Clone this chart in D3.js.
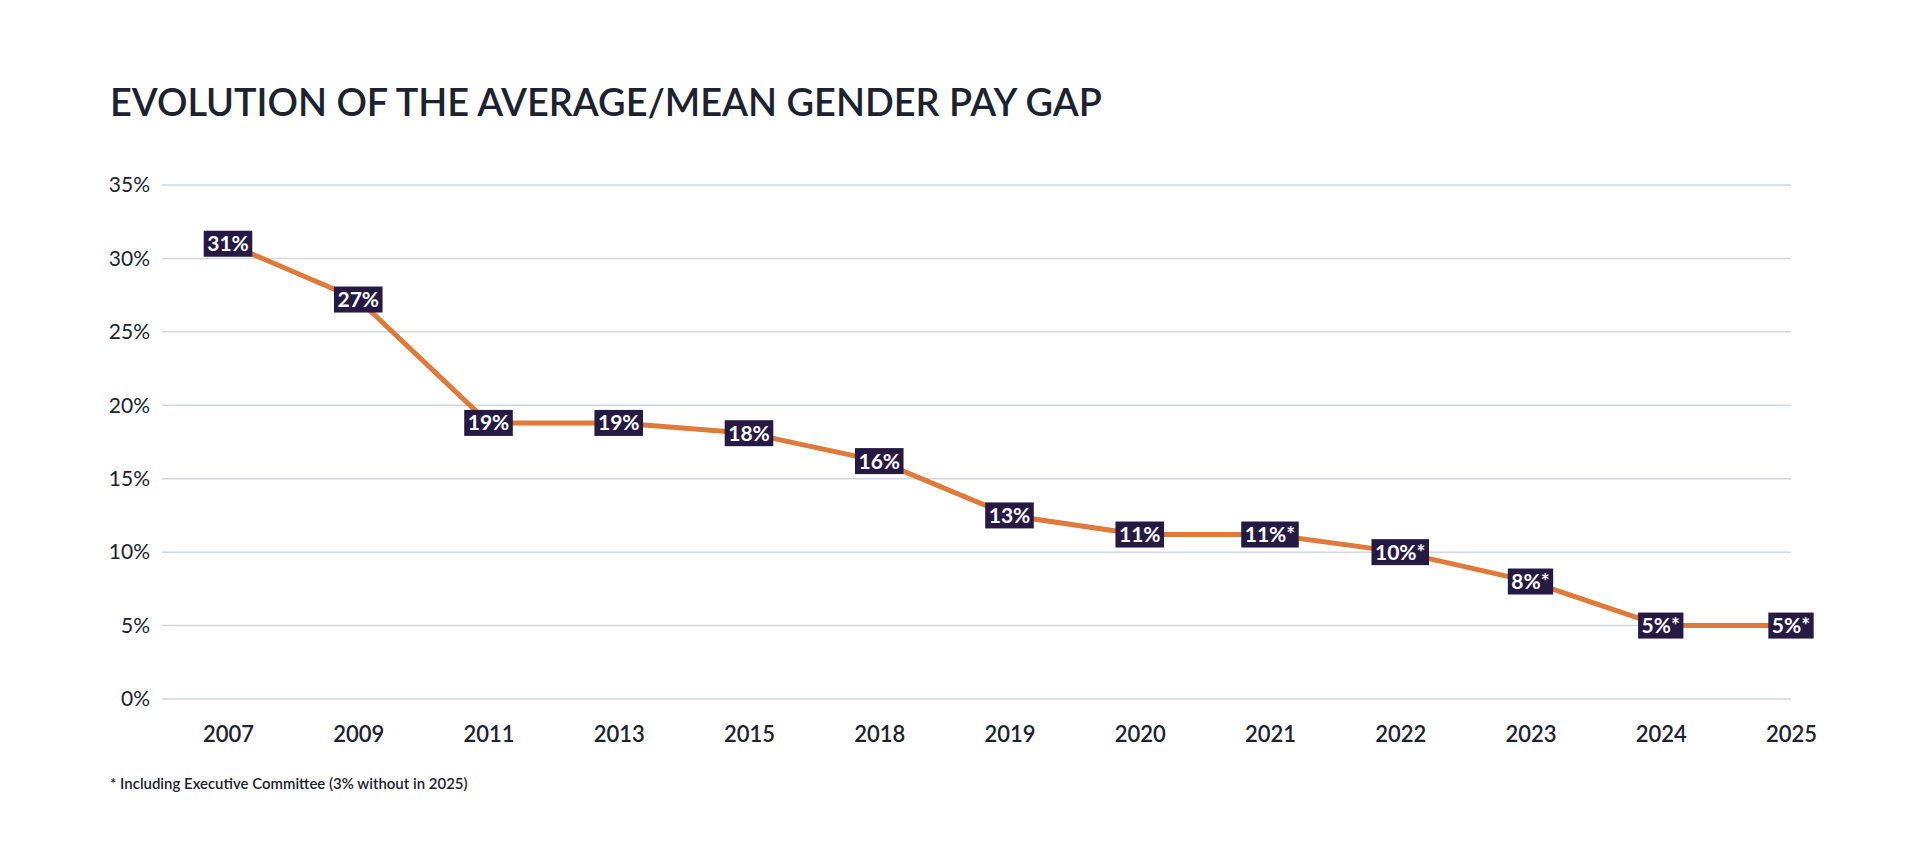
<!DOCTYPE html>
<html>
<head>
<meta charset="utf-8">
<script src="https://cdn.jsdelivr.net/npm/d3@7"></script>
<style>
  body { margin: 0; background: #fff; }
  text { font-family: Lato, "Noto Sans", sans-serif; }
</style>
</head>
<body>
<div id="chart"></div>
<script>
// data
var years = ["2007","2009","2011","2013","2015","2018","2019","2020","2021","2022","2023","2024","2025"];
var gap = [31.0, 27.2, 18.8, 18.8, 18.1, 16.2, 12.5, 11.2, 11.2, 10.0, 8.0, 5.0, 5.0];
var labels = ["31%","27%","19%","19%","18%","16%","13%","11%","11%*","10%*","8%*","5%*","5%*"];
var yTicks = [0, 5, 10, 15, 20, 25, 30, 35];

var width = 1920, height = 866;
var ink = "#1b2232";

var svg = d3.select("#chart").append("svg")
  .attr("width", width)
  .attr("height", height);

// fit a text to a measured width from the picture
function fitWidth(sel, size, target) {
  var w = sel.node().getComputedTextLength();
  sel.style("font-size", (size * target / w) + "px");
}

// title
var title = svg.append("text")
  .attr("x", 110)
  .attr("y", 116)
  .attr("fill", ink)
  .style("font-size", "35px")
  .style("font-weight", 600)
  .text("EVOLUTION OF THE AVERAGE/MEAN GENDER PAY GAP");
fitWidth(title, 35, 992);

// scales
var x = d3.scalePoint()
  .domain(years)
  .range([228, 1791]);

var y = d3.scaleLinear()
  .domain([0, 35])
  .range([699, 185]);

// grid lines
svg.append("g").selectAll("line")
  .data(yTicks)
  .enter()
  .append("line")
  .attr("x1", 162)
  .attr("x2", 1791)
  .attr("y1", d => y(d))
  .attr("y2", d => y(d))
  .attr("stroke", "#cfd7e4")
  .attr("stroke-width", 1.5);

// y axis labels
var yAxis = d3.axisLeft(y)
  .tickValues(yTicks)
  .tickFormat(d => d + "%")
  .tickSize(0)
  .tickPadding(0);

svg.append("g")
  .attr("transform", "translate(150,0)")
  .call(yAxis)
  .call(g => g.select(".domain").remove())
  .selectAll("text")
  .attr("fill", ink)
  .style("font-size", "21px")
  .style("font-family", "Lato, sans-serif");

// x axis labels
var xAxis = d3.axisBottom(x)
  .tickSize(0)
  .tickPadding(0);

svg.append("g")
  .attr("transform", "translate(0,726)")
  .call(xAxis)
  .call(g => g.select(".domain").remove())
  .selectAll("text")
  .attr("fill", ink)
  .style("font-size", "22px")
  .style("font-weight", 600)
  .style("font-family", "Lato, sans-serif");

// line
var line = d3.line()
  .x((d, i) => x(years[i]))
  .y(d => y(d));

svg.append("path")
  .datum(gap)
  .attr("d", line)
  .attr("fill", "none")
  .attr("stroke", "#e07a3b")
  .attr("stroke-width", 5)
  .attr("stroke-linejoin", "round");

// value labels in dark boxes
var lab = svg.append("g").selectAll("g")
  .data(gap)
  .enter()
  .append("g")
  .attr("transform", (d, i) => "translate(" + x(years[i]) + "," + y(d) + ")");

lab.append("rect")
  .attr("fill", "#261a45");

lab.append("text")
  .attr("text-anchor", "middle")
  .attr("dy", "0.36em")
  .attr("fill", "#fff")
  .style("font-size", "21px")
  .style("font-weight", 700)
  .text((d, i) => labels[i]);

lab.each(function() {
  var g = d3.select(this);
  var w = g.select("text").node().getComputedTextLength() + 7;
  g.select("rect")
    .attr("x", -w / 2)
    .attr("y", -13)
    .attr("width", w)
    .attr("height", 26);
});

// footnote
var note = svg.append("text")
  .attr("x", 110)
  .attr("y", 789)
  .attr("fill", ink)
  .style("font-size", "13px")
  .style("font-weight", 600)
  .text("* Including Executive Committee (3% without in 2025)");
fitWidth(note, 13, 358);
</script>
</body>
</html>
